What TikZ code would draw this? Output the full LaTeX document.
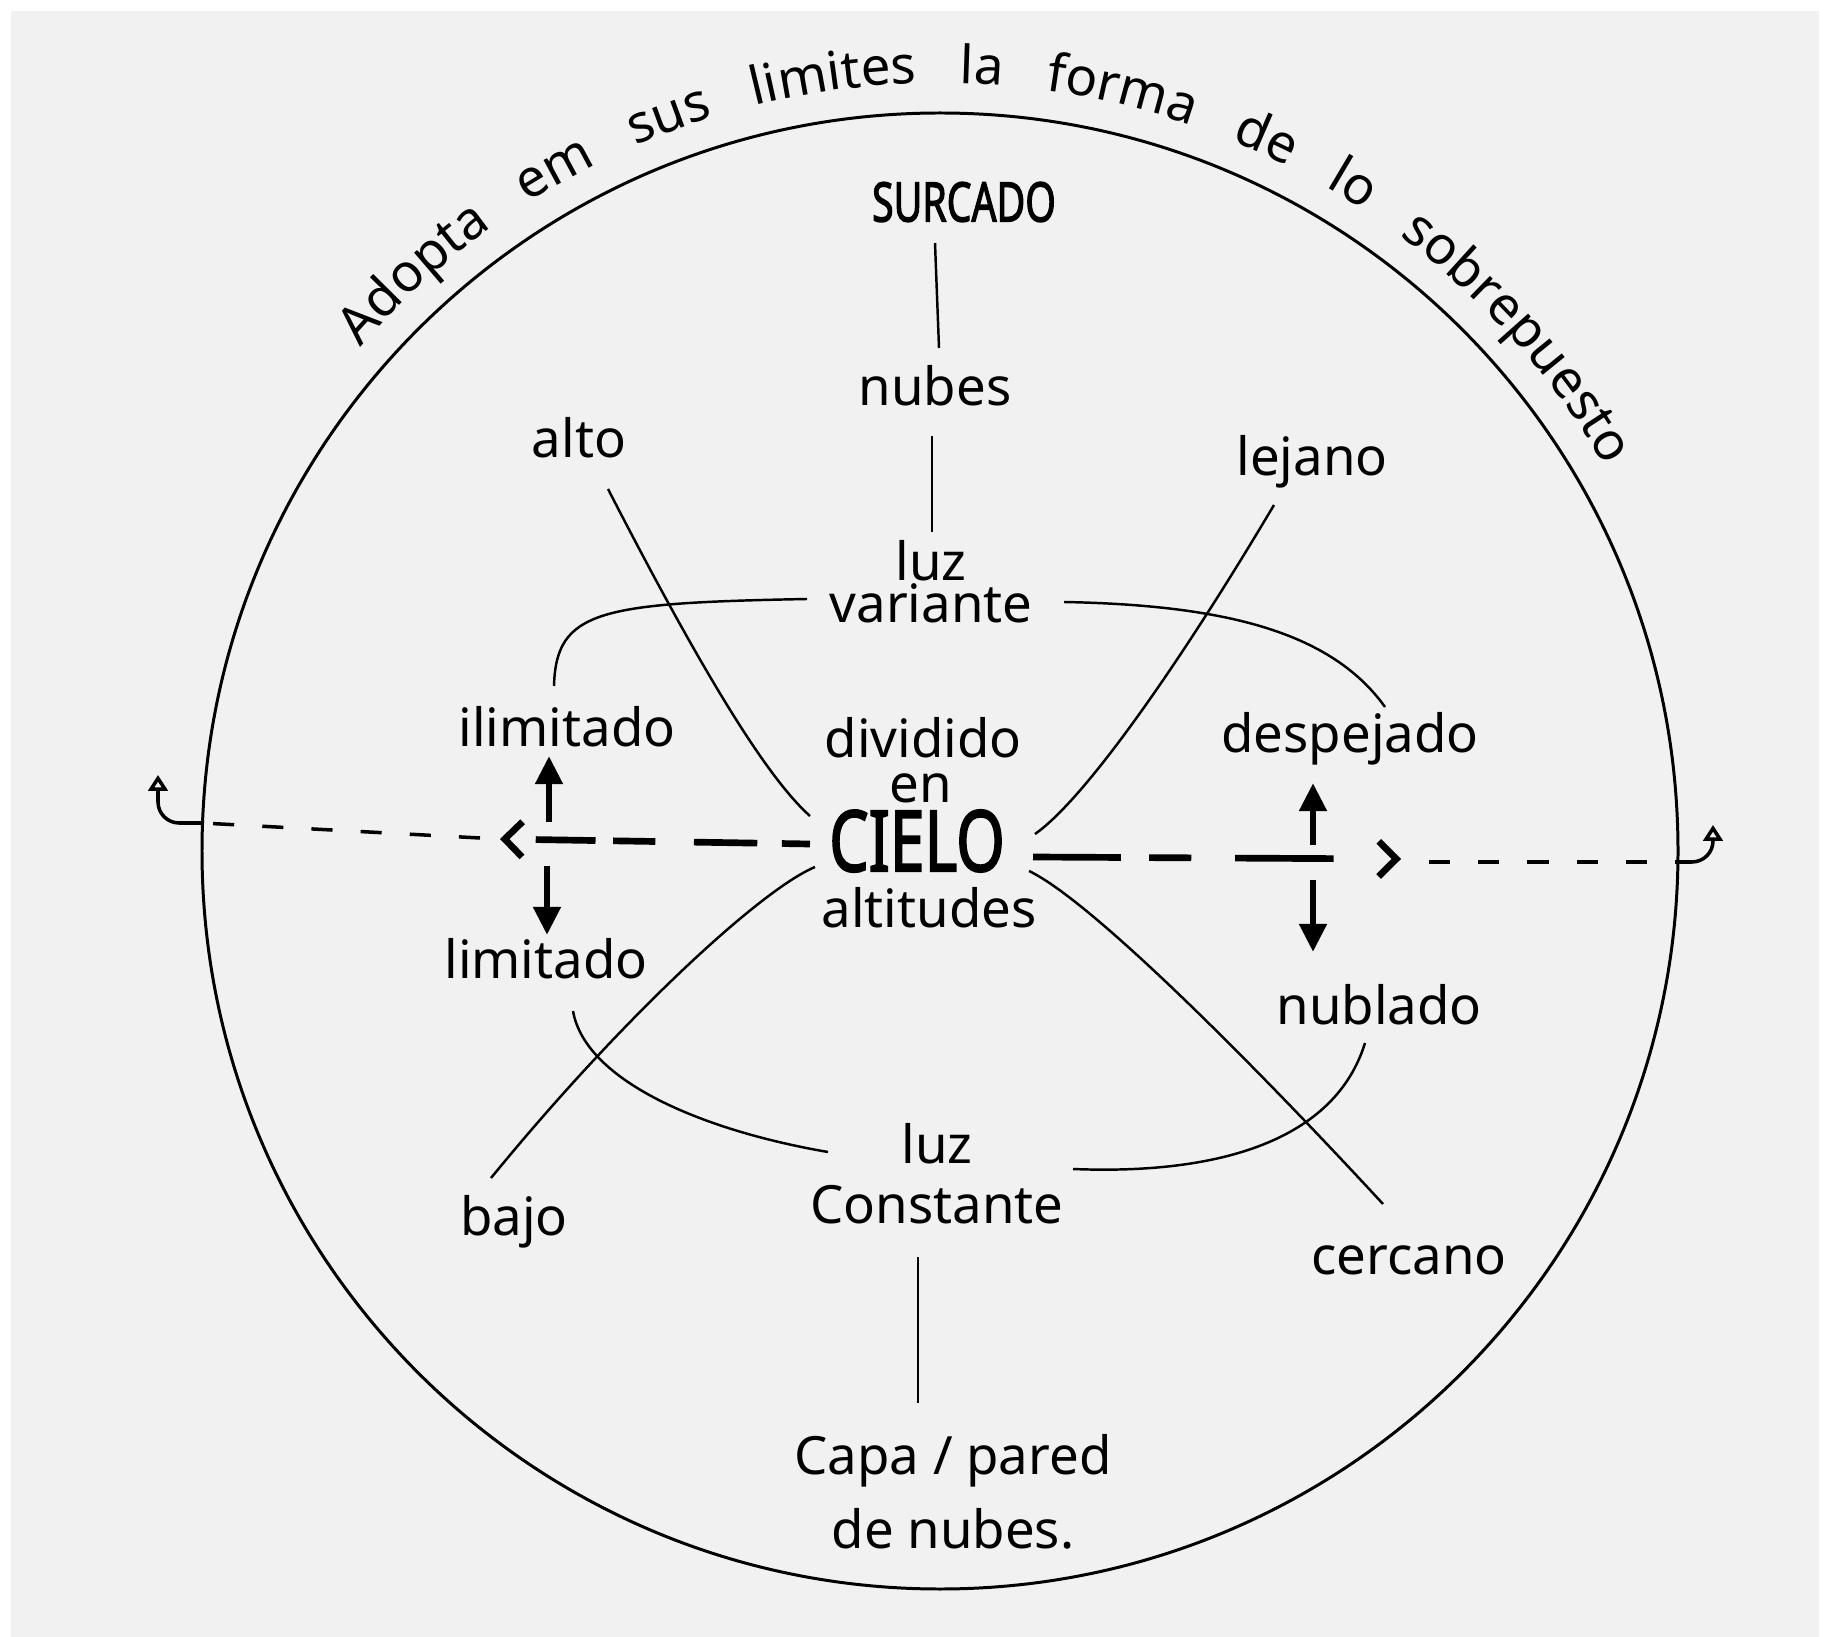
\documentclass[tikz,border=0pt]{standalone}
\usepackage{fontspec}
\setmainfont{Noto Sans}[AutoFakeBold=2.5]
\usetikzlibrary{arrows.meta,decorations.text,calc}
\definecolor{paper}{RGB}{241,241,241}
\newcommand\arcfont{\fontsize{15}{15}\selectfont}
\begin{document}
\begin{tikzpicture}[x=0.01cm,y=0.01cm,
  lbl/.style={font=\fontsize{15}{13}\selectfont, inner sep=0pt, align=center},
  conn/.style={line width=0.7pt},
  thickdash/.style={line width=1.9pt},
  thindash/.style={line width=1pt, dash pattern=on 6pt off 8pt},
  vert/.style={line width=1.9pt, -{Triangle[length=8pt,width=7.5pt]}},
  hookarr/.style={line width=1pt, rounded corners=6pt, -{Triangle[open,length=4.5pt,width=5.5pt]}},
  chev/.style={-{Straight Barb[length=5pt,width=10pt,line width=1.9pt]}},
]
\fill[white] (0,0) rectangle (1833,-1637);
\fill[paper] (11,-11) rectangle (1819,-1637);
\useasboundingbox (0,0) rectangle (1833,-1637);

% outer circle
\draw[line width=0.85pt] (940,-851) circle[radius=738];

% arc text
\path[decorate, decoration={text along path,
  text={|\arcfont|Adopta em sus limites la forma de lo sobrepuesto},
  text align={fit to path stretching spaces}}]
  (940,-851) ++(139:768) arc[start angle=139, end angle=30, radius=768];

% nodes
\node[lbl, font=\bfseries\fontsize{15.5}{15}\selectfont] (surcado) at (964,-202) {\scalebox{0.72}[1]{SURCADO}};
\node[lbl] (nubes) at (935,-386) {nubes};
\node[lbl, font=\fontsize{15}{12}\selectfont] (luzv) at (931,-582) {luz\\variante};
\node[lbl] (alto) at (579,-438) {alto};
\node[lbl] (lejano) at (1312,-462) {lejano};
\node[lbl] (ilimitado) at (567,-727) {ilimitado};
\node[lbl] (dividido) at (923,-738) {dividido};
\node[lbl] (en) at (921,-788) {en};
\node[lbl, font=\bfseries\fontsize{24}{24}\selectfont] (cielo) at (917,-841) {\scalebox{0.74}[1]{CIELO}};
\node[lbl] (altitudes) at (929,-908) {altitudes};
\node[lbl] (despejado) at (1350,-739) {despejado};
\node[lbl] (limitado) at (546,-959) {limitado};
\node[lbl] (nublado) at (1379,-1005) {nublado};
\node[lbl] (bajo) at (514,-1222) {bajo};
\node[lbl, font=\fontsize{15}{17}\selectfont] (luzc) at (937,-1174) {luz\\Constante};
\node[lbl] (cercano) at (1409,-1260) {cercano};
\node[lbl, font=\fontsize{15}{21}\selectfont] (capa) at (953,-1492) {Capa / pared\\de nubes.};

% connectors
\draw[conn] ($(surcado)+(-29,-41)$) -- ($(nubes)+(4,38)$);
\draw[conn] ($(nubes)+(-3,-50)$) -- ($(luzv)+(1,50)$);
\draw[conn] ($(luzv)+(-124,-17)$) .. controls (600,-603) and (556,-610) .. ($(ilimitado)+(-13,41)$);
\draw[conn] ($(luzv)+(133,-20)$) .. controls (1220,-605) and (1330,-630) .. ($(despejado)+(35,32)$);
\draw[conn] ($(alto)+(29,-51)$) .. controls (698,-664) and (765,-776) .. ($(cielo)+(-107,25)$);
\draw[conn] ($(lejano)+(-38,-43)$) .. controls (1179,-665) and (1085,-799) .. ($(cielo)+(118,7)$);
\draw[conn] ($(cielo)+(-102,-26)$) .. controls (760,-890) and (620,-1020) .. ($(bajo)+(-23,44)$);
\draw[conn] ($(cielo)+(112,-30)$) .. controls (1090,-900) and (1250,-1060) .. ($(cercano)+(-26,56)$);
\draw[conn] ($(limitado)+(27,-52)$) .. controls (585,-1080) and (700,-1130) .. ($(luzc)+(-109,22)$);
\draw[conn] ($(luzc)+(136,5)$) .. controls (1220,-1175) and (1335,-1140) .. ($(nublado)+(-14,-38)$);
\draw[conn] ($(luzc)+(-19,-83)$) -- ($(capa)+(-35,89)$);

% horizontal dashed axis
\coordinate (lchev) at (500,-839);
\coordinate (ledge) at (202,-823);
\coordinate (lhook) at (158,-775);
\coordinate (rchev) at (1401,-859);
\coordinate (redge) at (1678,-862);
\coordinate (rhook) at (1713,-825);

\draw[thickdash, chev, dash pattern=on 8pt off 7pt on 18pt off 11pt on 12pt off 5pt on 17pt off 20pt] ($(cielo)+(-107,-3)$) -- (lchev);
\draw[thindash] ($(lchev)+(-20,1)$) -- (ledge);
\draw[hookarr] (ledge) -| (lhook);

\draw[thickdash, chev, dash pattern=on 25pt off 8pt on 12pt off 12.5pt on 28pt off 30pt] ($(cielo)+(116,-16)$) -- (rchev);
\draw[thindash] ($(rchev)+(28,-3)$) -- (redge);
\draw[hookarr] (redge) -| (rhook);

% vertical arrows
\coordinate (lup) at (549,-822);
\coordinate (ldn) at (547,-866);
\coordinate (rup) at (1313,-845);
\coordinate (rdn) at (1313,-880);
\draw[vert] (lup) -- ($(ilimitado)+(-18,-29)$);
\draw[vert] (ldn) -- ($(limitado)+(1,24)$);
\draw[vert] (rup) -- ($(despejado)+(-37,-44)$);
\draw[vert] (rdn) -- ($(nublado)+(-66,53)$);
\end{tikzpicture}
\end{document}
